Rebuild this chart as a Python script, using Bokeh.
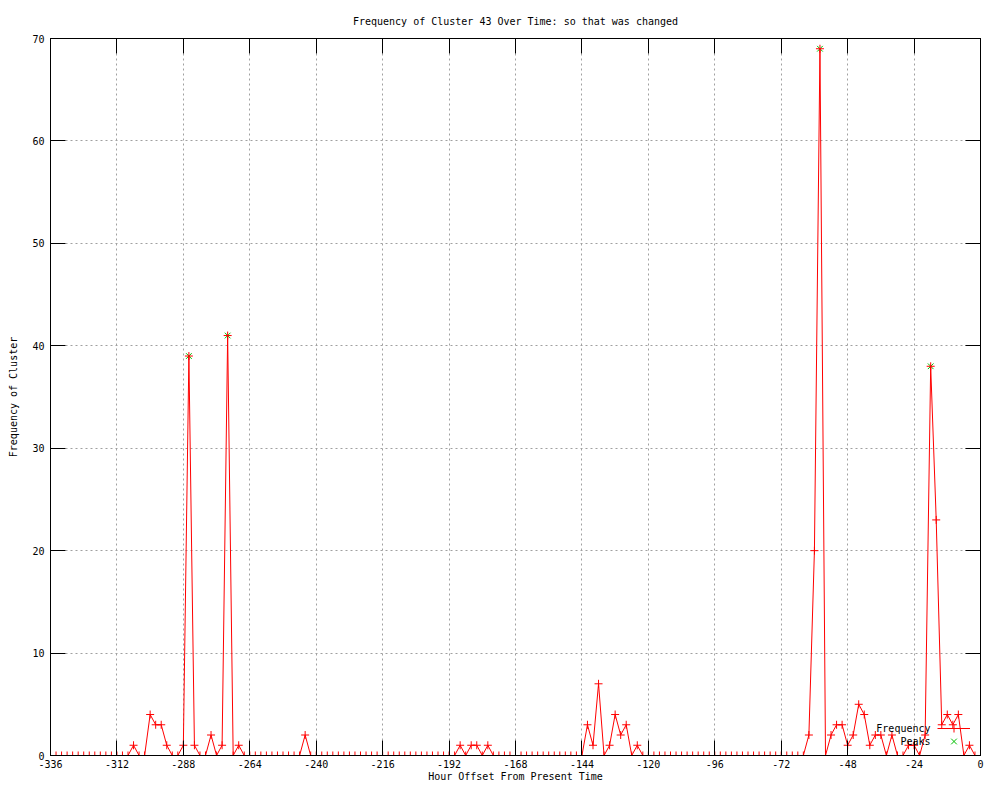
from bokeh.plotting import figure
from bokeh.models import FixedTicker, LinearAxis, Legend, LegendItem, Label
from bokeh.embed import file_html
from bokeh.resources import INLINE

# ---------------- data ----------------
hours = list(range(-336, 0, 2))
freq = [
    0, 0, 0, 0, 0, 0, 0, 0, 0, 0, 0, 0,        # -336 .. -314
    0, 0, 0, 1, 0, 0, 4, 3, 3, 1, 0, 0,        # -312 .. -290
    1, 39, 1, 0, 0, 2, 0, 1, 41, 0, 1, 0,      # -288 .. -266
    0, 0, 0, 0, 0, 0, 0, 0, 0, 0, 2, 0,        # -264 .. -242
    0, 0, 0, 0, 0, 0, 0, 0, 0, 0, 0, 0,        # -240 .. -218
    0, 0, 0, 0, 0, 0, 0, 0, 0, 0, 0, 0,        # -216 .. -194
    0, 0, 1, 0, 1, 1, 0, 1, 0, 0, 0, 0,        # -192 .. -170
    0, 0, 0, 0, 0, 0, 0, 0, 0, 0, 0, 0,        # -168 .. -146
    0, 3, 1, 7, 0, 1, 4, 2, 3, 0, 1, 0,        # -144 .. -122
    0, 0, 0, 0, 0, 0, 0, 0, 0, 0, 0, 0,        # -120 .. -98
    0, 0, 0, 0, 0, 0, 0, 0, 0, 0, 0, 0,        # -96 .. -74
    0, 0, 0, 0, 0, 2, 20, 69, 0, 2, 3, 3,      # -72 .. -50
    1, 2, 5, 4, 1, 2, 2, 0, 2, 0, 0, 1,        # -48 .. -26
    1, 0, 2, 38, 23, 3, 4, 3, 4, 0, 1, 0,      # -24 .. -2
]
peak_hours = [-286, -272, -58, -18]
peak_values = [39, 41, 69, 38]

x_ticks = list(range(-336, 1, 24))
x_tick_labels = [str(t) for t in x_ticks]
y_ticks = list(range(0, 71, 10))
y_tick_labels = [str(t) for t in y_ticks]

title_text = "Frequency of Cluster 43 Over Time: so that was changed"
x_label = "Hour Offset From Present Time"
y_label = "Frequency of Cluster"
series_names = ["Frequency", "Peaks"]

FONT = "DejaVu Sans Mono"
FS = "10px"
RED = "#ff0000"
GREEN = "#00c000"

p = figure(width=984, height=784, x_range=(-336, 0), y_range=(0, 70),
           output_backend="svg", toolbar_location=None,
           min_border_left=50, min_border_right=4,
           min_border_top=38, min_border_bottom=28,
           background_fill_color="white", border_fill_color="white")

p.title.text = title_text
p.title.align = "center"
p.title.text_font = FONT
p.title.text_font_size = FS
p.title.text_font_style = "normal"
p.title.text_color = "black"
p.title.standoff = 24

p.outline_line_color = "black"
p.outline_line_alpha = 1.0
p.outline_line_width = 1

xt = FixedTicker(ticks=x_ticks)
yt = FixedTicker(ticks=y_ticks)

def style_axis(ax, ticker, labels, show_labels):
    ax.ticker = ticker
    ax.major_tick_in = 15
    ax.major_tick_out = 0
    ax.minor_tick_in = 0
    ax.minor_tick_out = 0
    ax.major_tick_line_color = "black"
    ax.axis_line_color = "black"
    ax.major_label_text_font = FONT
    ax.major_label_text_font_size = FS if show_labels else "0px"
    ax.major_label_text_color = "black"
    ax.major_label_overrides = {t: l for t, l in zip(ticker.ticks, labels)}
    ax.axis_label_text_font = FONT
    ax.axis_label_text_font_size = FS
    ax.axis_label_text_font_style = "normal"
    ax.axis_label_text_color = "black"

xa = p.xaxis[0]
ya = p.yaxis[0]
style_axis(xa, xt, x_tick_labels, True)
style_axis(ya, yt, y_tick_labels, True)
xa.axis_label = x_label
ya.axis_label = y_label
xa.major_label_standoff = 4
xa.axis_label_standoff = 0
ya.major_label_standoff = 6
ya.axis_label_standoff = 10

top = LinearAxis()
style_axis(top, xt, ["" for _ in x_ticks], False)
top.major_label_standoff = 0
p.add_layout(top, "above")
right = LinearAxis()
style_axis(right, yt, ["" for _ in y_ticks], False)
right.major_label_standoff = 0
p.add_layout(right, "right")

for g, t in ((p.xgrid[0], xt), (p.ygrid[0], yt)):
    g.ticker = t
    g.grid_line_color = "#a0a0a0"
    g.grid_line_dash = "2 3"
    g.grid_line_width = 1

peaks_r = p.scatter(peak_hours, peak_values, marker="x", size=8,
                    line_color=GREEN, line_width=1)
line_r = p.line(hours, freq, line_color=RED, line_width=1)
pts_r = p.scatter(hours, freq, marker="cross", size=8,
                  line_color=RED, line_width=1)

legend_renderers = [[line_r, pts_r], [peaks_r]]
for i, (name, rs) in enumerate(zip(series_names, legend_renderers)):
    lg = Legend(items=[LegendItem(label=name, renderers=rs)],
                location=(887, 17 - 13 * i), padding=0, margin=0, spacing=0,
                glyph_width=33, glyph_height=20, label_height=20,
                label_width=0, label_standoff=0,
                label_text_alpha=0, label_text_font_size="1px",
                border_line_color=None, background_fill_alpha=0)
    p.add_layout(lg)
    p.add_layout(Label(x=880, y=27 - 13 * i, x_units="screen", y_units="screen",
                       text=name, text_align="right", text_baseline="middle",
                       text_font=FONT, text_font_size=FS, text_color="black"))

open("out.html", "w").write(file_html(p, INLINE))
